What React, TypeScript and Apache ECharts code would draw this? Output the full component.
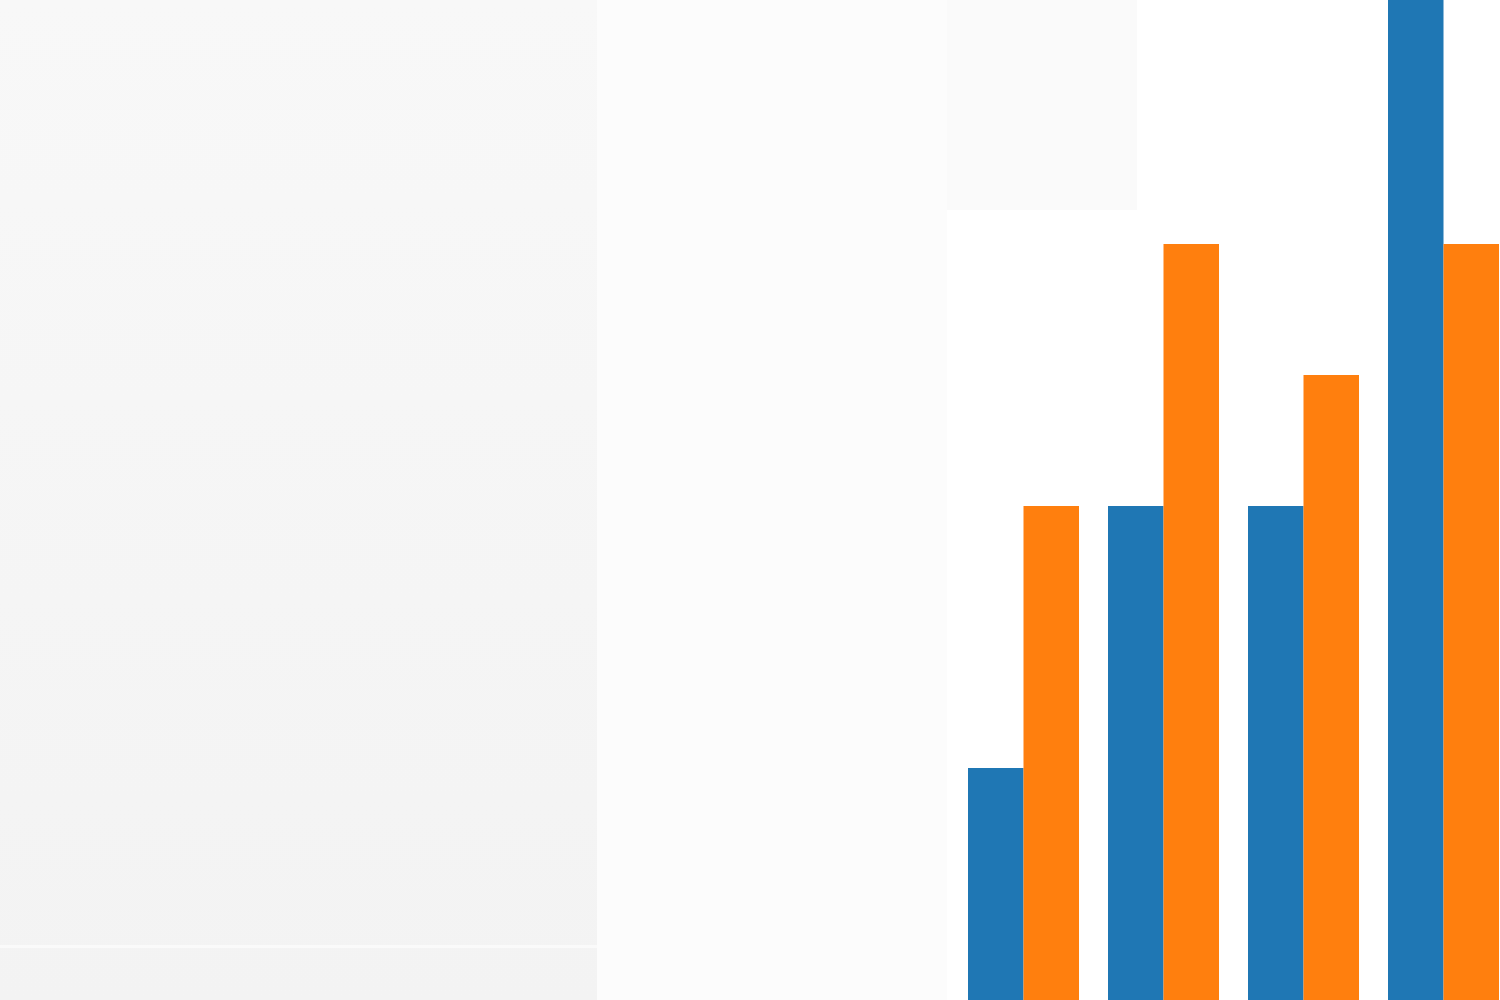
import React, { useEffect, useRef } from "react";
import * as echarts from "echarts";

const categories = ["A", "B", "C", "D"];
const seriesBlue = [2, 4, 4, 8];
const seriesOrange = [4, 6, 5, 6];

const OFFSET = 100;

export default function App() {
  const ref = useRef<HTMLDivElement>(null);
  useEffect(() => {
    if (!ref.current) return;
    const chart = echarts.init(ref.current, null, { renderer: "svg" });
    chart.setOption({
      animation: false,
      backgroundColor: "#ffffff",
      graphic: [
        {
          type: "rect",
          silent: true,
          z: -10,
          shape: { x: 0, y: OFFSET, width: 597, height: 1000 },
          style: {
            fill: new echarts.graphic.LinearGradient(0, 0, 0, 1, [
              { offset: 0, color: "#f8f8f8" },
              { offset: 1, color: "#f3f3f3" },
            ]),
          },
        },
        {
          type: "rect",
          silent: true,
          z: -9,
          shape: { x: 0, y: OFFSET + 945, width: 597, height: 3 },
          style: { fill: "#fafafa" },
        },
        {
          type: "rect",
          silent: true,
          z: -10,
          shape: { x: 597, y: OFFSET, width: 350, height: 1000 },
          style: { fill: "#fcfcfc" },
        },
        {
          type: "rect",
          silent: true,
          z: -10,
          shape: { x: 947, y: OFFSET, width: 190, height: 210 },
          style: { fill: "#fafafa" },
        },
      ],
      grid: { left: 953.5, right: 6.5, top: 82, bottom: 70 },
      xAxis: {
        type: "category",
        data: categories,
        show: false,
      },
      yAxis: {
        type: "value",
        min: 0,
        max: 8,
        show: false,
        splitLine: { show: false },
      },
      series: [
        {
          type: "bar",
          data: seriesBlue,
          barWidth: 55.5,
          barGap: "0%",
          itemStyle: { color: "#1f77b4" },
        },
        {
          type: "bar",
          data: seriesOrange,
          barWidth: 55.5,
          barGap: "0%",
          itemStyle: { color: "#ff7f0e" },
        },
      ],
    });
    return () => chart.dispose();
  }, []);
  return (
    <div
      style={{
        position: "fixed",
        left: 0,
        top: 0,
        width: 1500,
        height: 1000,
        overflow: "hidden",
        background: "#ffffff",
      }}
    >
      <div
        ref={ref}
        style={{ position: "absolute", left: 0, top: -OFFSET, width: 1520, height: 1200 }}
      />
    </div>
  );
}
